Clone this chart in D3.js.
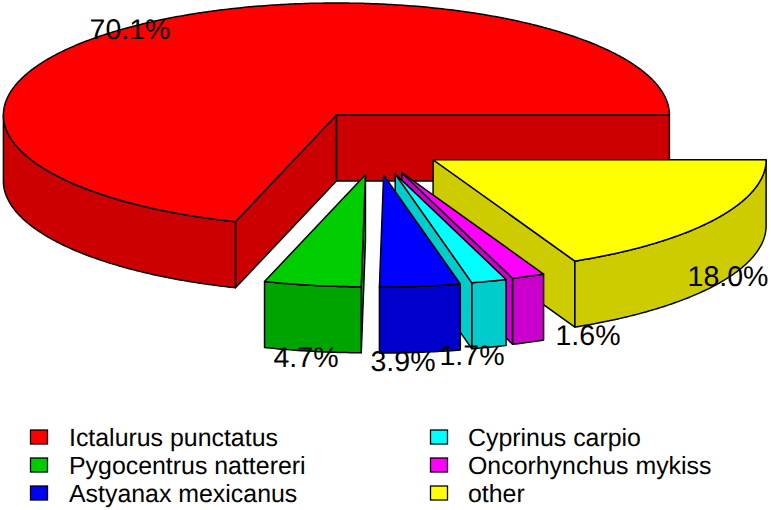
<!DOCTYPE html>
<html>
<head>
<meta charset="utf-8">
<script src="https://cdn.jsdelivr.net/npm/d3@7/dist/d3.min.js"></script>
<style>
html,body{margin:0;padding:0;background:#fff}
svg{display:block}
text{font-family:"Liberation Sans",Arial,sans-serif;fill:#000;text-rendering:geometricPrecision}
</style>
</head>
<body>
<svg id="chart" width="771" height="510"></svg>
<script>
const species = ["Ictalurus punctatus","Pygocentrus nattereri","Astyanax mexicanus","Cyprinus carpio","Oncorhynchus mykiss","other"];
const percents = [70.1,4.7,3.9,1.7,1.6,18.0];
const topColors = ["#FF0000","#00CD00","#0000FF","#00FFFF","#FF00FF","#FFFF00"];
const sideColors = ["#CC0000","#00A400","#0000CC","#00CCCC","#CC00CC","#CCCC00"];
const drawOrder = [0,5,4,3,2,1];
const labelPositions = [[130,39],[306,367],[403,371],[472,365],[588,345],[728,286]];

const W = 771, H = 510;
const pieCx = 376.2, pieCy = 141.9, rx = 333, ry = 112, depth = 66;
const explodeX = 67.4, explodeY = 33.3;
const svg = d3.select("#chart");

const slices = d3.pie().sort(null).startAngle(0).endAngle(2*Math.PI).value(d=>d)(percents);
const line = d3.line();
const stepAngle = Math.PI/360;
const thetas = (a,b)=> d3.range(a,b,stepAngle).concat([b]);

function drawSlice(i){
  const s = slices[i], a = s.startAngle, b = s.endAngle, mid = (a+b)/2;
  const cx = pieCx + explodeX*Math.cos(mid), cy = pieCy - explodeY*Math.sin(mid);
  const pt = (t,dy=0)=>[cx + rx*Math.cos(t), cy - ry*Math.sin(t) + dy];
  const g = svg.append("g").attr("stroke","#000").attr("stroke-width",1.5).attr("stroke-linejoin","round");

  // radial walls: only those facing the viewer
  const walls = [];
  if(Math.cos(a) > 0) walls.push(a);
  if(Math.cos(b) < 0) walls.push(b);
  walls.forEach(t=>{
    g.append("path").attr("fill",sideColors[i])
      .attr("d",line([[cx,cy],pt(t),pt(t,depth),[cx,cy+depth]])+"Z");
  });
  // outer wall: only the front half of the rim
  const from = Math.max(a,Math.PI), to = Math.min(b,2*Math.PI);
  if(to>from){
    const rim = thetas(from,to);
    g.append("path").attr("fill",sideColors[i])
      .attr("d",line(rim.map(t=>pt(t)).concat(rim.slice().reverse().map(t=>pt(t,depth))))+"Z");
  }
  // top face
  g.append("path").attr("fill",topColors[i])
    .attr("d",line([[cx,cy]].concat(thetas(a,b).map(t=>pt(t))))+"Z");
}
drawOrder.forEach(drawSlice);

// percent labels
svg.append("g").selectAll("text").data(percents).join("text")
  .attr("x",(d,i)=>labelPositions[i][0])
  .attr("y",(d,i)=>labelPositions[i][1])
  .attr("text-anchor","middle")
  .attr("font-size",28.5)
  .text(d=>d.toFixed(1)+"%");

// legend
const rowY = d3.scaleOrdinal().domain([0,1,2]).range([437,465,493]);
const colX = d3.scaleOrdinal().domain([0,1]).range([30,430]);
const legend = svg.append("g").selectAll("g").data(species).join("g")
  .attr("transform",(d,i)=>`translate(${colX(Math.floor(i/3))},${rowY(i%3)})`);
legend.append("rect").attr("x",0.5).attr("y",-7).attr("width",17).attr("height",14)
  .attr("fill",(d,i)=>topColors[i]).attr("stroke","#000").attr("stroke-width",1.3);
legend.append("text").attr("x",(d,i)=> i<3 ? 39 : 38).attr("y",8.7).attr("font-size",24.9).text(d=>d);
</script>
</body>
</html>
